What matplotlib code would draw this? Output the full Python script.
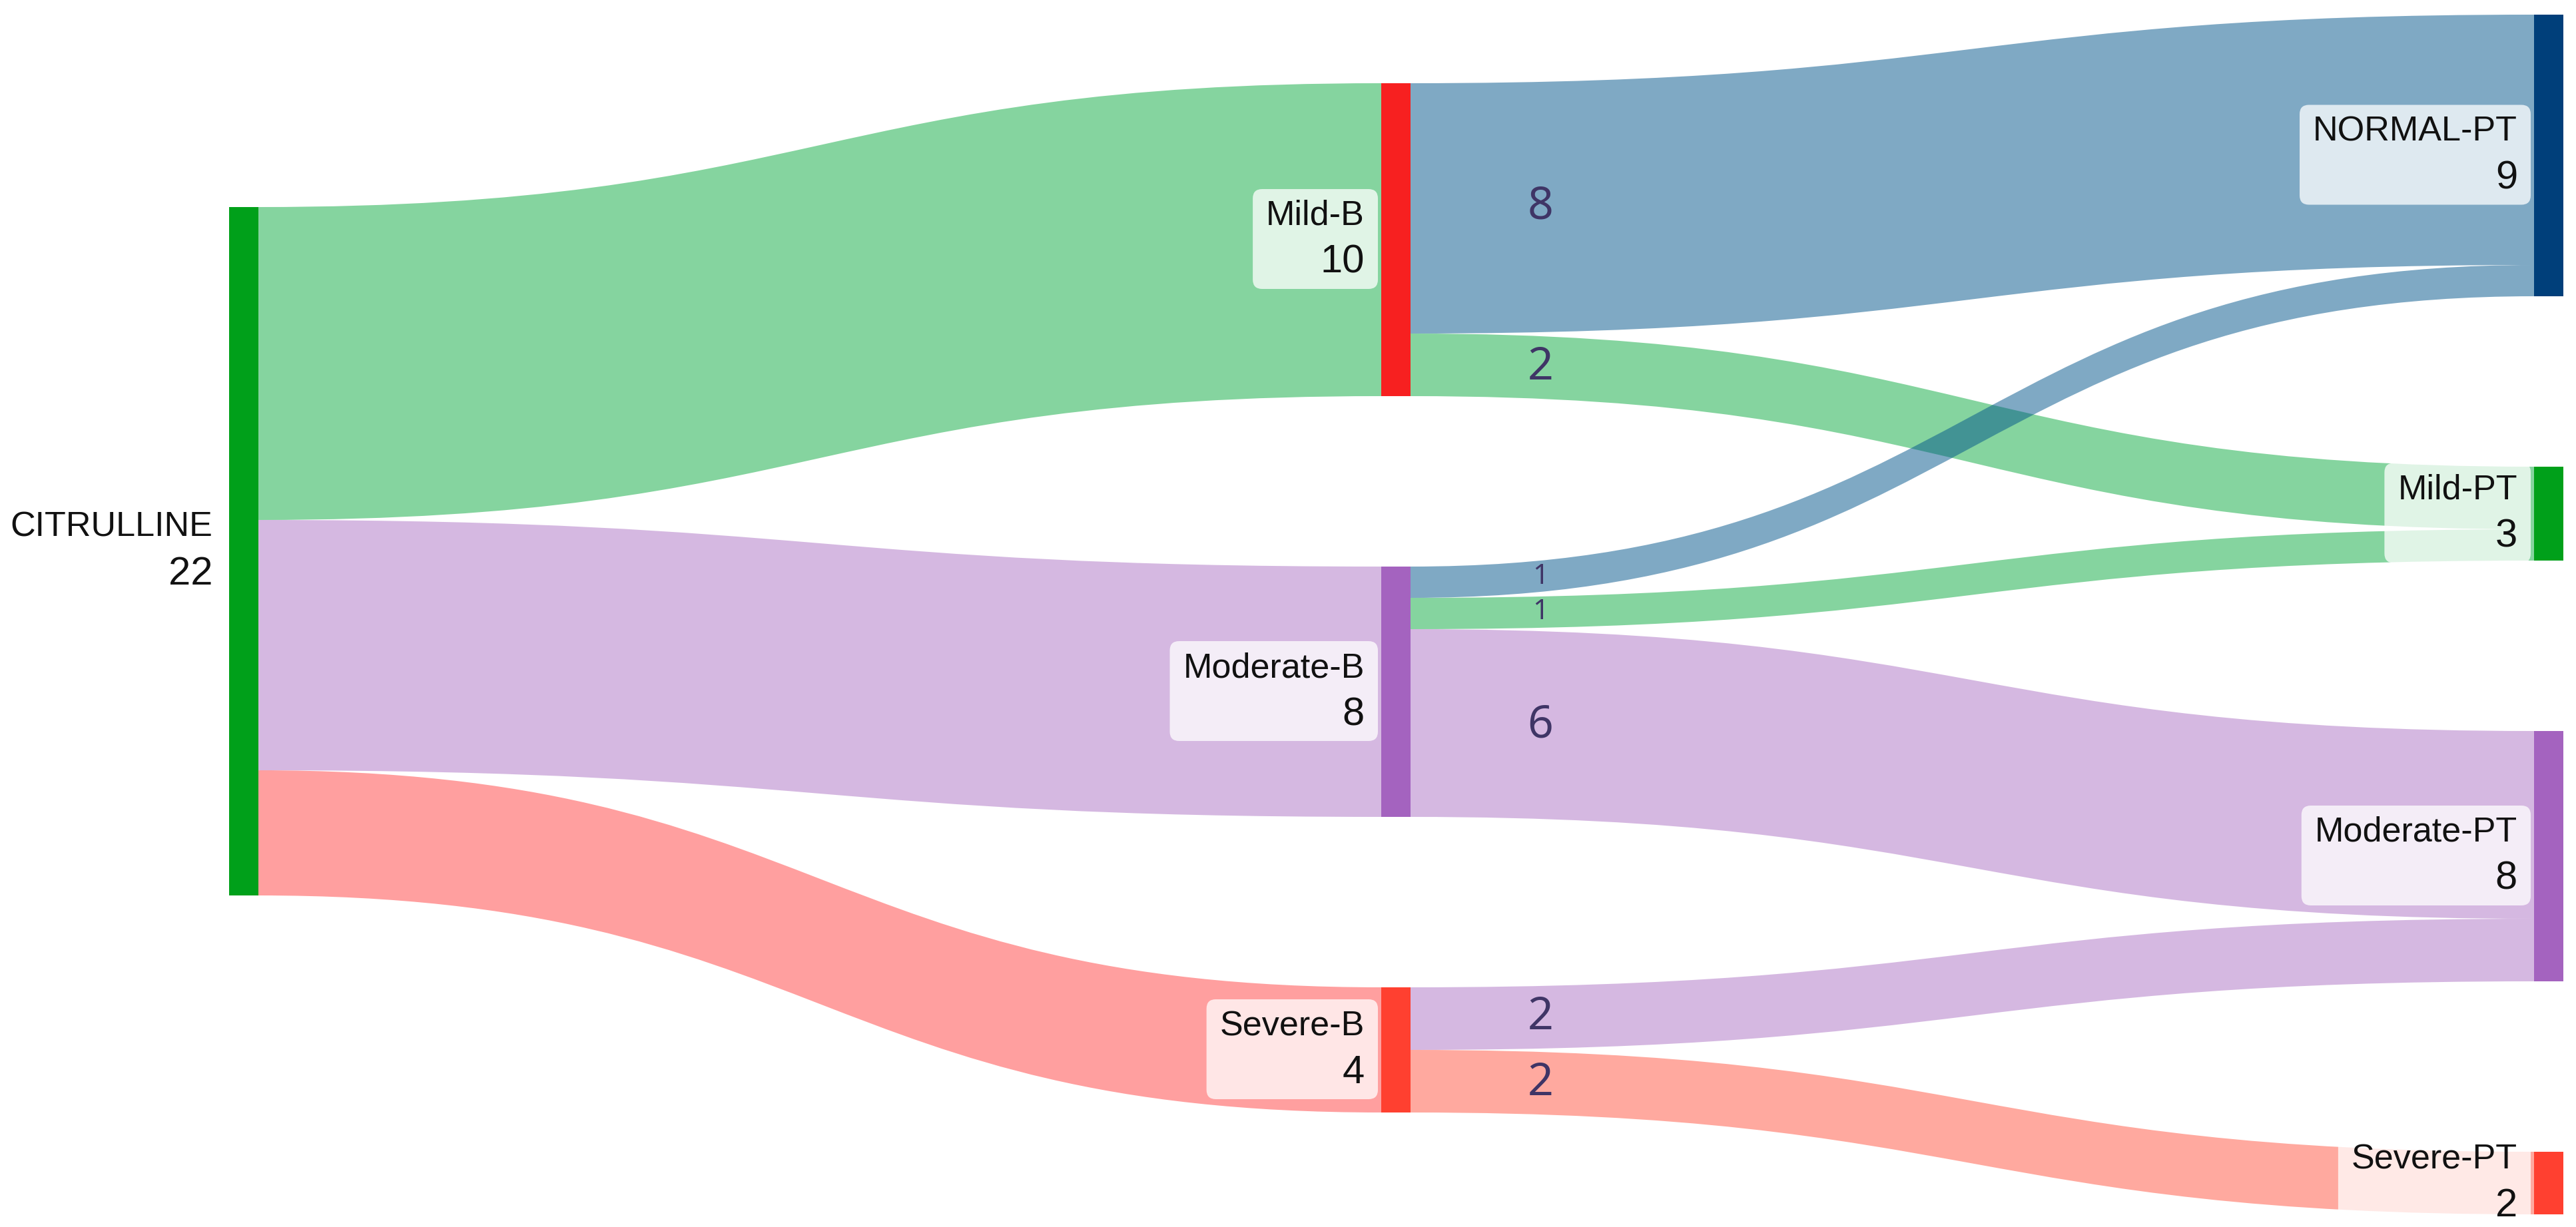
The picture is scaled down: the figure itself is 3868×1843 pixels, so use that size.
import numpy as np
import matplotlib.pyplot as plt
from matplotlib.path import Path
from matplotlib.patches import PathPatch, Rectangle, FancyBboxPatch
from matplotlib.transforms import Bbox

# data
nodes = ['CITRULLINE', 'Mild-B', 'Moderate-B', 'Severe-B',
         'NORMAL-PT', 'Mild-PT', 'Moderate-PT', 'Severe-PT']
node_column = [0, 1, 1, 1, 2, 2, 2, 2]
node_colors = ['#00a01a', '#f72020', '#a463bf', '#ff4030',
               '#003f7a', '#00a01a', '#a463bf', '#ff4030']

link_source = [0, 0, 0, 1, 1, 2, 2, 2, 3, 3]
link_target = [1, 2, 3, 4, 5, 4, 5, 6, 6, 7]
link_value = [10, 8, 4, 8, 2, 1, 1, 6, 2, 2]
link_colors = [(0.05, 0.67, 0.25, 0.5), (0.68, 0.45, 0.77, 0.5), (1.0, 0.25, 0.25, 0.5),
               (0.0, 0.33, 0.54, 0.5), (0.05, 0.67, 0.25, 0.5),
               (0.0, 0.33, 0.54, 0.5), (0.05, 0.67, 0.25, 0.5), (0.68, 0.45, 0.77, 0.5),
               (0.68, 0.45, 0.77, 0.5), (1.0, 0.33, 0.25, 0.5)]

# layout (pixels)
W, H = 3868, 1843
column_x = [344, 2074, 3805]
column_top = [311, 125, 22]
node_w = 44
unit = 47
pad = 256

fig = plt.figure(figsize=(W / 100, H / 100), dpi=100)
ax = fig.add_axes([0, 0, 1, 1])
ax.set_xlim(0, W)
ax.set_ylim(H, 0)
ax.axis('off')

n = len(nodes)
val_in = np.zeros(n)
val_out = np.zeros(n)
for s, t, v in zip(link_source, link_target, link_value):
    val_out[s] += v
    val_in[t] += v
node_value = np.maximum(val_in, val_out)

node_x = [column_x[c] for c in node_column]
node_y = [0.0] * n
cursor = list(column_top)
for i in range(n):
    c = node_column[i]
    node_y[i] = cursor[c]
    cursor[c] += node_value[i] * unit + pad

# link offsets
out_off = list(node_y)
in_off = list(node_y)
src_y = {}
tgt_y = {}
for k in sorted(range(len(link_value)), key=lambda k: (link_source[k], link_target[k])):
    w = link_value[k] * unit
    src_y[k] = out_off[link_source[k]]
    out_off[link_source[k]] += w
for k in sorted(range(len(link_value)), key=lambda k: (link_target[k], link_source[k])):
    w = link_value[k] * unit
    tgt_y[k] = in_off[link_target[k]]
    in_off[link_target[k]] += w

for k in range(len(link_value)):
    s, t = link_source[k], link_target[k]
    w = link_value[k] * unit
    x0 = node_x[s] + node_w
    x1 = node_x[t]
    xm = (x0 + x1) / 2
    s0, s1 = src_y[k], src_y[k] + w
    t0, t1 = tgt_y[k], tgt_y[k] + w
    verts = [(x0, s0), (xm, s0), (xm, t0), (x1, t0), (x1, t1),
             (xm, t1), (xm, s1), (x0, s1), (x0, s0)]
    codes = [Path.MOVETO, Path.CURVE4, Path.CURVE4, Path.CURVE4, Path.LINETO,
             Path.CURVE4, Path.CURVE4, Path.CURVE4, Path.CLOSEPOLY]
    ax.add_patch(PathPatch(Path(verts, codes), fc=link_colors[k], lw=0, zorder=1))

    # flow labels on the second stage
    if node_column[s] == 1:
        tt = np.linspace(0, 1, 2001)
        bx = x0 + (x1 - x0) * (1.5 * tt - 1.5 * tt ** 2 + tt ** 3)
        by = (s0 + w / 2) + (t0 - s0) * (3 * tt ** 2 - 2 * tt ** 3)
        lx = x0 + 195
        ly = np.interp(lx, bx, by)
        fs = min(68, 0.9 * w) * 0.72
        ax.text(lx, ly, str(link_value[k]), ha='center', va='center',
                fontsize=fs, color='#3f3566', family=['Noto Sans', 'DejaVu Sans'], zorder=5)

for i in range(n):
    ax.add_patch(Rectangle((node_x[i], node_y[i]), node_w, node_value[i] * unit,
                           fc=node_colors[i], lw=0, zorder=2))

renderer = fig.canvas.get_renderer()
inv = ax.transData.inverted()
for i in range(n):
    cy = node_y[i] + node_value[i] * unit / 2
    xr = node_x[i] - 25
    t1 = ax.text(xr, cy - 22, nodes[i], ha='right', va='baseline', fontsize=37.5,
                 color='#111111', family=['Liberation Sans', 'DejaVu Sans'], zorder=4)
    t2 = ax.text(xr, cy + 50, '%d' % node_value[i], ha='right', va='baseline', fontsize=43,
                 color='#111111', family=['Liberation Sans', 'DejaVu Sans'], zorder=4)
    bb = Bbox.union([t1.get_window_extent(renderer), t2.get_window_extent(renderer)])
    (ax0, ay0), (ax1, ay1) = inv.transform([(bb.x0, bb.y0), (bb.x1, bb.y1)])
    left = min(ax0, ax1) - 20
    right = node_x[i] - 5
    top = min(ay0, ay1) - 16
    bottom = max(ay0, ay1) + 12
    ax.add_patch(FancyBboxPatch((left, top), right - left, bottom - top,
                                boxstyle='round,pad=0,rounding_size=14',
                                fc=(1, 1, 1, 0.75), ec='none', zorder=3))

fig.savefig('out.png', dpi=100, facecolor='white')
